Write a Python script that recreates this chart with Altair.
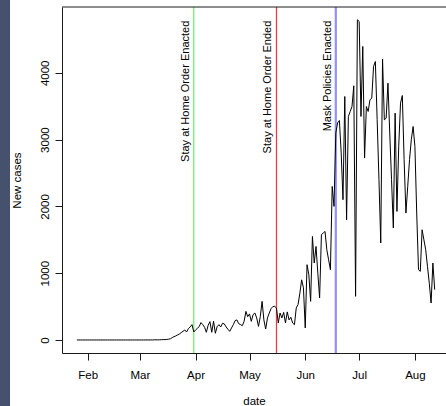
import altair as alt
import pandas as pd

# ---- data (daily new cases, starting 2020-01-26) ----
start_date = "2020-01-26"
cases_jan = [1, 0, 0, 0, 0, 0]
cases_feb = [0, 0, 0, 0, 0, 0, 0, 0, 0, 0, 0, 0, 0, 0, 0, 0, 0, 0, 0, 0,
             0, 0, 0, 0, 0, 0, 0, 0, 0]
cases_mar = [0, 0, 0, 0, 1, 0, 1, 0, 2, 3, 1, 3, 4, 6, 5, 8, 12, 18, 35, 50,
             60, 75, 90, 110, 130, 150, 120, 170, 195, 230, 120]
cases_apr = [150, 175, 200, 260, 230, 190, 115, 220, 275, 115, 280, 100, 200, 229,
             195, 250, 240, 195, 160, 129, 180, 229, 290, 300, 244, 230, 214, 279,
             428, 349]
cases_may = [390, 279, 380, 404, 330, 204, 350, 578, 300, 164, 330, 404, 470, 500,
             503, 478, 254, 404, 329, 413, 254, 420, 300, 340, 254, 229, 480, 530,
             700, 900, 780]
cases_jun = [180, 1127, 977, 578, 1550, 1152, 1400, 1000, 628, 1576, 1601, 1625,
             1351, 1200, 1052, 2298, 2000, 3100, 3250, 3286, 2800, 2100, 3645, 1800,
             3346, 3420, 3495, 3805, 653, 4793]
cases_jul = [4768, 3346, 4394, 2723, 3495, 3421, 3596, 3620, 4094, 4169, 3300, 2400,
             1452, 4205, 3296, 3320, 3845, 3100, 2400, 1676, 3396, 1925, 2900, 3546,
             3660, 2700, 1900, 2300, 2700, 3000, 3196]
cases_aug = [2897, 1900, 1052, 1027, 1650, 1500, 1351, 1100, 850, 553, 1152, 753]

event_dates = ["2020-03-31", "2020-05-16", "2020-06-18"]
event_labels = ["Stay at Home Order Enacted", "Stay at Home Order Ended",
                "Mask Policies Enacted"]

y_ticks = [0, 1000, 2000, 3000, 4000]
x_tick_months = [2, 3, 4, 5, 6, 7, 8]

# ---- styling / layout constants ----
EVENT_COLORS = ["#66ee66", "#ff3333", "#9090ff"]
EVENT_WIDTHS = [1.2, 1.2, 2.2]
LABEL_Y = 4780
W, H = 384, 346
PAD = {"left": 62, "top": 7, "right": 0, "bottom": 53}
FONT = "Liberation Sans"
AX = "#1a1a1a"

new_cases = cases_jan + cases_feb + cases_mar + cases_apr + cases_may + cases_jun + cases_jul + cases_aug
dates = pd.date_range(start_date, periods=len(new_cases), freq="D").strftime("%Y-%m-%d").tolist()

df = pd.DataFrame({"date": dates, "cases": new_cases})
ev = pd.DataFrame({"date": event_dates, "label": event_labels, "y": [LABEL_Y] * len(event_dates)})
one = pd.DataFrame({"a": [0]})

x_scale = alt.Scale(
    type="utc",
    domain=[alt.DateTime(year=2020, month=1, date=17, hours=17, utc=True),
            alt.DateTime(year=2020, month=8, date=18, hours=7, utc=True)],
)
y_scale = alt.Scale(domain=[-195, 4985], nice=False, zero=False)

x_axis = alt.Axis(
    title="date",
    values=[alt.DateTime(year=2020, month=m, date=1, utc=True) for m in x_tick_months],
    format="%b", labelAngle=0, tickSize=7, labelPadding=9, grid=False,
    domainColor=AX, tickColor=AX, labelColor="#000", titleColor="#000",
    labelFont=FONT, labelFontSize=11.5, titleFont=FONT, titleFontSize=11.5,
    titleFontWeight="normal", titleY=51, titleBaseline="alphabetic",
    labelFlush=False, labelOverlap=False,
)
y_axis = alt.Axis(
    title="New cases", values=y_ticks, labelAngle=270, labelAlign="center",
    labelBaseline="alphabetic", labelPadding=7, tickSize=7, grid=False,
    domainColor=AX, tickColor=AX, labelColor="#000", titleColor="#000",
    labelFont=FONT, labelFontSize=11.5, titleFont=FONT, titleFontSize=11.5,
    titleFontWeight="normal", titleAngle=270, titleX=-42, titleY=173,
    titleAlign="center", titleBaseline="alphabetic",
    labelFlush=False, labelOverlap=False, format="d",
)

strip = alt.Chart(one).mark_rect(color="#45516d").encode(
    x=alt.value(-PAD["left"]), x2=alt.value(-PAD["left"] + 10),
    y=alt.value(-PAD["top"]), y2=alt.value(H + PAD["bottom"]),
)

line = alt.Chart(df).mark_line(color="black", strokeWidth=1).encode(
    x=alt.X("date:T", scale=x_scale, axis=x_axis),
    y=alt.Y("cases:Q", scale=y_scale, axis=y_axis),
)

rule_layers = [
    alt.Chart(ev).transform_filter(alt.datum.label == lab)
    .mark_rule(color=col, strokeWidth=sw)
    .encode(x=alt.X("date:T", scale=x_scale))
    for lab, col, sw in zip(event_labels, EVENT_COLORS, EVENT_WIDTHS)
]

labels = alt.Chart(ev).mark_text(
    angle=270, align="right", baseline="alphabetic", dy=-5,
    font=FONT, fontSize=11, color="black",
).encode(
    x=alt.X("date:T", scale=x_scale),
    y=alt.Y("y:Q", scale=y_scale),
    text="label:N",
)

top_frame = alt.Chart(one).mark_rule(color=AX, strokeWidth=1).encode(
    x=alt.value(0), x2=alt.value(W), y=alt.value(0),
)

chart = alt.layer(strip, *rule_layers, line, labels, top_frame).properties(
    width=W, height=H,
    padding=PAD,
    autosize=alt.AutoSizeParams(type="none"),
    background="white",
).configure_view(stroke=None)

chart.save("out.html", embed_options={"renderer": "svg", "actions": False})
